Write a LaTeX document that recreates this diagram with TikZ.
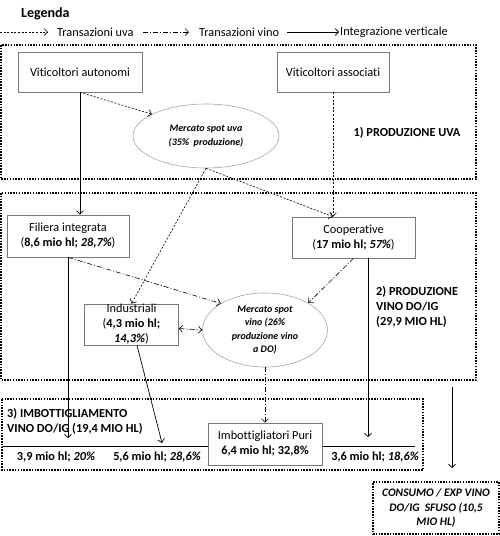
\documentclass[tikz,border=0pt]{standalone}
\usepackage{fontspec}
\setmainfont[Ligatures=NoCommon]{Carlito}
\usetikzlibrary{arrows.meta,shapes.geometric}
\definecolor{boxgray}{RGB}{120,120,120}
\definecolor{ellgray}{RGB}{165,165,165}
\definecolor{txt}{RGB}{0,0,0}
\begin{document}
\begin{tikzpicture}[x=1pt,y=-1pt,
  >={Straight Barb[length=3.5pt,width=7pt]},
  every node/.style={text=txt},
  base/.style={font=\fontsize{12.3}{15}\selectfont},
  small/.style={font=\bfseries\itshape\fontsize{10}{13.3}\selectfont},
  box/.style={base,draw=boxgray,line width=0.6pt,align=center,inner sep=0pt},
  ell/.style={small,ellipse,draw=ellgray,line width=0.6pt,align=center,inner sep=0pt},
  frame/.style={draw=black,line width=1.5pt,dash pattern=on 1.5pt off 1.3pt},
  uva/.style={->,line width=0.6pt,dash pattern=on 2pt off 1.6pt},
  vino/.style={->,line width=0.6pt,dash pattern=on 5pt off 2pt on 1pt off 2pt},
  integ/.style={->,line width=0.7pt},
  lbl/.style={font=\bfseries\fontsize{12.3}{15}\selectfont,align=left,inner sep=0pt}]
\useasboundingbox (0,0) rectangle (500,536);

% legend
\node[font=\bfseries\fontsize{14}{16}\selectfont,anchor=west,inner sep=0pt] (leg) at (21,14) {Legenda};
\coordinate (la1) at (0,32); \coordinate (la2) at (48,32);
\coordinate (lb1) at (143,32); \coordinate (lb2) at (189,32);
\coordinate (lc1) at (287,32); \coordinate (lc2) at (339,32);
\draw[uva] (la1) -- (la2);
\draw[vino] (lb1) -- (lb2);
\draw[integ] (lc1) -- (lc2);
\node[base,anchor=west,inner sep=0pt] (lt1) at (57,32) {Transazioni uva};
\node[base,anchor=west,inner sep=0pt] (lt2) at (199,32) {Transazioni vino};
\node[base,anchor=west,inner sep=0pt] (lt3) at (340,32) {Integrazione verticale};

% frames
\draw[frame] (1,45) rectangle (476,179);
\draw[frame] (1,193) rectangle (476,380);
\draw[frame] (2,399) rectangle (423,470);

% horizontal line in section 3
\coordinate (h1) at (2,446); \coordinate (h2) at (415,446);
\draw[line width=0.7pt] (h1) -- (h2);

% nodes
\node[box,minimum width=124pt,minimum height=40pt] (va) at (80,72) {Viticoltori autonomi};
\node[box,minimum width=112pt,minimum height=40pt] (vs) at (333,72) {Viticoltori associati};
\node[ell,minimum width=146pt,minimum height=64pt] (mu) at (206,136) {Mercato spot uva\\(35\%\ \ produzione)};
\node[lbl] (l1) at (407,133) {1) PRODUZIONE UVA};

\node[box,minimum width=122pt,minimum height=42pt] (fi) at (68,236) {Filiera integrata\\(\textbf{8,6 mio hl; \textit{28,7\%}})};
\node[box,minimum width=123pt,minimum height=41pt] (co) at (353.5,237.5) {Cooperative\\(\textbf{17 mio hl; \textit{57\%}})};
\node[box,minimum width=94pt,minimum height=41pt] (in) at (131.5,324.5) {Industriali\\(\textbf{4,3 mio hl;}\\\textbf{\textit{14,3\%}})};
\node[ell,minimum width=125pt,minimum height=74pt] (mv) at (265,330) {Mercato spot\\vino (26\%\\produzione vino\\a DO)};
\node[lbl,anchor=west] (l2) at (376,307) {2) PRODUZIONE\\VINO DO/IG\\(29,9 MIO HL)};

\node[lbl,anchor=west] (l3) at (7,421.5) {3) IMBOTTIGLIAMENTO\\VINO DO/IG (19,4 MIO HL)};
\node[box,fill=white,minimum width=114pt,minimum height=42pt] (im) at (265,444) {Imbottigliatori Puri\\\textbf{6,4 mio hl; 32,8\%}};
\node[lbl] (b1) at (56,457) {3,9 mio hl; \textit{20\%}};
\node[lbl] (b2) at (157,457) {5,6 mio hl; \textit{28,6\%}};
\node[lbl] (b4) at (375,457) {3,6 mio hl; \textit{18,6\%}};

\node[frame,font=\bfseries\itshape\fontsize{11.5}{14.5}\selectfont,align=center,minimum width=126pt,minimum height=52pt,inner sep=0pt] (cs) at (436,508) {CONSUMO / EXP VINO\\DO/IG\ \ SFUSO (10,5\\MIO HL)};

% connectors
\coordinate (t1) at (68,438);
\coordinate (t2) at (162,443);
\coordinate (t4) at (368,437);
\coordinate (c1) at (452,387);
\coordinate (c2) at (452,468);

\draw[integ] (va.south) -- (va.south |- fi.north);
\draw[uva] (va.south) -- (mu.158);
\draw[uva] (vs.south) -- (vs.south |- co.north);
\draw[uva] (mu.south) -- (vs.south |- co.north);
\draw[uva] (mu.south) -- (in.north);
\draw[vino] (fi.south) -- (mv.149);
\draw[vino] (co.south) -- (mv.32);
\draw[vino,<->] ([yshift=-4pt]in.east) -- (mv.west);
\draw[vino] (mv.south) -- (im.north);
\draw[integ] (fi.south) -- (t1);
\draw[integ] (co.south -| t4) -- (t4);
\draw[integ] ([xshift=5.5pt]in.south) -- (t2);
\draw[integ] (c1) -- (c2);
\end{tikzpicture}
\end{document}
